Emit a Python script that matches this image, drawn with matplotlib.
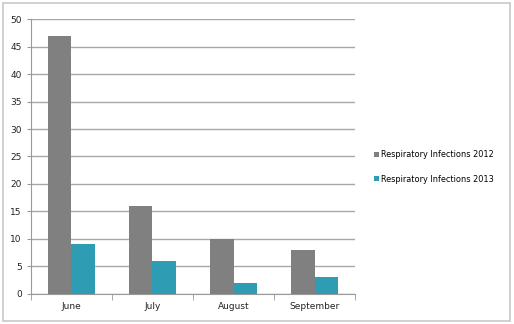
import matplotlib.pyplot as plt
import numpy as np
from matplotlib.patches import Rectangle

months = ['June', 'July', 'August', 'September']
infections_2012 = [47, 16, 10, 8]
infections_2013 = [9, 6, 2, 3]
y_ticks = [0, 5, 10, 15, 20, 25, 30, 35, 40, 45, 50]

gray = '#808080'
teal = '#2e9db4'

fig = plt.figure(figsize=(5.14, 3.24), dpi=100)
ax = fig.add_axes([0.060, 0.093, 0.631, 0.848])

x = np.arange(len(months))
w = 0.29
ax.bar(x - w / 2, infections_2012, width=w, color=gray, label='Respiratory Infections 2012', zorder=3)
ax.bar(x + w / 2, infections_2013, width=w, color=teal, label='Respiratory Infections 2013', zorder=3)

ax.set_xlim(-0.5, len(months) - 0.5)
ax.set_ylim(0, 50)
ax.set_yticks(y_ticks)
ax.set_xticks(x)
ax.set_xticklabels(months)
ax.set_xticks(np.arange(len(months) + 1) - 0.5, minor=True)
ax.tick_params(axis='x', which='major', length=0, labelsize=6.5, pad=6, colors='#222222')
ax.tick_params(axis='x', which='minor', length=4, direction='out', color='#999999')
ax.tick_params(axis='y', labelsize=6.5, length=3, color='#999999', colors='#222222')

ax.yaxis.grid(True, color='#a8a8a8', linewidth=1.0, zorder=0)
for side in ['top', 'right']:
    ax.spines[side].set_visible(False)
ax.spines['left'].set_color('#999999')
ax.spines['bottom'].set_color('#999999')

ax.legend(loc='center left', bbox_to_anchor=(1.035, 0.462), frameon=False,
          fontsize=5.9, handlelength=0.6, handleheight=0.6, handletextpad=0.3,
          labelspacing=1.9)

# light frame around the whole chart
fig.patches.append(Rectangle((3 / 514, 3 / 324), 507 / 514, 318 / 324,
                             transform=fig.transFigure, fill=False,
                             edgecolor='#c8c8c8', linewidth=1.2))

fig.savefig('out.png', dpi=100)
